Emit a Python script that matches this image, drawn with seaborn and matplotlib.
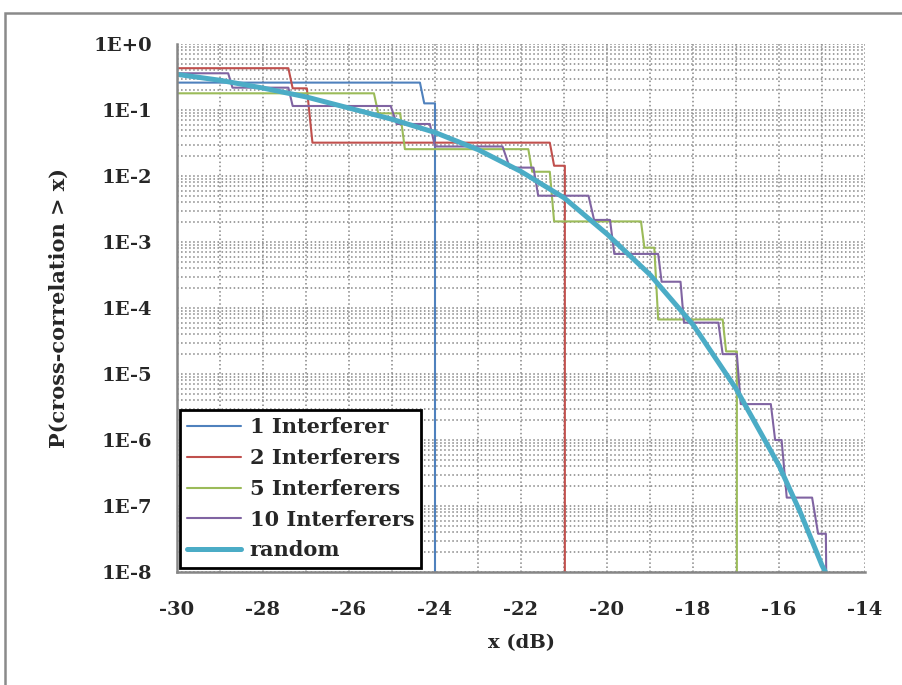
import matplotlib
matplotlib.use('Agg')
import matplotlib.pyplot as plt
from matplotlib.lines import Line2D
from matplotlib.patches import Rectangle
from matplotlib.ticker import FixedLocator, MultipleLocator, NullFormatter
import seaborn as sns

# ! Data (corner points of the step curves)
x_1 = [-30, -24.35, -24.25, -24.0, -24.0]
p_1 = [0.26, 0.26, 0.126, 0.126, 1e-12]

x_2 = [-30, -27.41, -27.31, -26.98, -26.85, -21.33, -21.23, -20.98, -20.98]
p_2 = [0.43, 0.43, 0.213, 0.213, 0.032, 0.032, 0.0143, 0.0143, 1e-12]

x_5 = [-30, -25.42, -25.32, -24.81, -24.70, -21.83, -21.74, -21.33, -21.23,
       -19.21, -19.13, -18.90, -18.81, -17.31, -17.23, -16.98, -16.98]
p_5 = [0.179, 0.179, 0.089, 0.089, 0.0255, 0.0255, 0.0116, 0.0116, 0.00205,
       0.00205, 0.00082, 0.00082, 6.7e-5, 6.7e-5, 2.2e-5, 2.2e-5, 1e-12]

x_10 = [-30, -28.81, -28.71, -27.41, -27.31, -25.03, -24.89, -24.12, -24.0,
        -22.43, -22.26, -21.71, -21.6, -20.43, -20.30, -19.93, -19.83, -18.81,
        -18.73, -18.29, -18.21, -17.41, -17.31, -16.98, -16.89, -16.19, -16.09,
        -15.94, -15.82, -15.23, -15.09, -14.91, -14.85]
p_10 = [0.36, 0.36, 0.218, 0.218, 0.115, 0.115, 0.0614, 0.0614, 0.028,
        0.028, 0.0134, 0.0134, 0.00503, 0.00503, 0.00216, 0.00216, 0.00066, 0.00066,
        0.00025, 0.00025, 6.0e-5, 6.0e-5, 2.0e-5, 2.0e-5, 3.5e-6, 3.5e-6, 1.0e-6,
        1.0e-6, 1.34e-7, 1.34e-7, 3.8e-8, 3.8e-8, 1e-12]

x_rand = [-30, -29, -28, -27, -26, -25, -24, -23, -22, -21, -20, -19, -18,
          -17, -16, -15.5, -15, -14.92]
p_rand = [0.347, 0.282, 0.215, 0.158, 0.107, 0.0724, 0.0457, 0.0251, 0.0117,
          0.00468, 0.00132, 3.2e-4, 5.6e-5, 6.0e-6, 4.1e-7, 7.9e-8, 1.26e-8, 1.0e-8]

labels = ['1 Interferer', '2 Interferers', '5 Interferers', '10 Interferers', 'random']
colors = ['#4F81BD', '#C0504D', '#9BBB59', '#8064A2', '#4BACC6']
widths = [1.5, 1.5, 1.5, 1.5, 3.6]

y_ticks = [1e0, 1e-1, 1e-2, 1e-3, 1e-4, 1e-5, 1e-6, 1e-7, 1e-8]
y_ticklabels = ['1E+0', '1E-1', '1E-2', '1E-3', '1E-4', '1E-5', '1E-6', '1E-7', '1E-8']
x_ticks = [-30, -28, -26, -24, -22, -20, -18, -16, -14]

sns.set_style('white')
plt.rcParams['font.family'] = ['DejaVu Serif']
plt.rcParams['font.weight'] = 'bold'

fig = plt.figure(figsize=(9.02, 6.85), dpi=100)
ax = fig.add_axes([177 / 902, 1 - 572 / 685, 688 / 902, 528 / 685])

series = [(x_1, p_1), (x_2, p_2), (x_5, p_5), (x_10, p_10), (x_rand, p_rand)]
for (xs, ps), c, w in zip(series, colors, widths):
    sns.lineplot(x=xs, y=ps, sort=False, estimator=None, color=c, linewidth=w, ax=ax)

ax.set_yscale('log')
ax.set_xlim(-30, -14)
ax.set_ylim(1e-8, 1)

ax.xaxis.set_major_locator(FixedLocator(x_ticks))
ax.xaxis.set_minor_locator(MultipleLocator(1))
ax.yaxis.set_major_locator(FixedLocator(y_ticks))
minor_y = [m * 10.0 ** e for e in range(-8, 0) for m in range(2, 10)]
ax.yaxis.set_minor_locator(FixedLocator(minor_y))
ax.yaxis.set_minor_formatter(NullFormatter())
ax.set_yticklabels(y_ticklabels)
ax.set_xticklabels([str(v) for v in x_ticks])

ax.grid(which='both', linestyle=':', color='#858585', linewidth=1.1)
ax.set_axisbelow(True)
for s in ['top', 'right']:
    ax.spines[s].set_visible(False)
for s in ['left', 'bottom']:
    ax.spines[s].set_color('#868686')
    ax.spines[s].set_linewidth(1.8)

ax.tick_params(which='major', direction='out', length=7, width=1.5, color='#868686',
               labelsize=14)
ax.tick_params(axis='x', which='major', pad=14)
ax.tick_params(axis='y', which='major', pad=11)
ax.tick_params(which='minor', length=0)
for t in ax.get_xticklabels() + ax.get_yticklabels():
    t.set_fontweight('bold')

ax.set_xlabel('x (dB)', fontsize=14, fontweight='bold')
ax.set_ylabel('P(cross-correlation > x)', fontsize=15, fontweight='bold')
ax.xaxis.set_label_coords(0.5, -0.117)
ax.yaxis.set_label_coords(-0.157, 0.5)

handles = [Line2D([0], [0], color=c, linewidth=w) for c, w in zip(colors, widths)]
leg = ax.legend(handles, labels, loc='lower left', bbox_to_anchor=(0.004, 0.008),
                borderaxespad=0, fancybox=False, framealpha=1, edgecolor='black',
                prop={'size': 15, 'weight': 'bold'}, handlelength=2.6,
                handletextpad=0.4, labelspacing=0.52, borderpad=0.35)
leg.get_frame().set_linewidth(2)

# outer chart-area border (left and top edges visible)
fig.patches.append(Rectangle((5 / 902, -0.2), 1.2, 1.2 - 13 / 685, transform=fig.transFigure,
                             fill=False, edgecolor='#8a8a8a', linewidth=1.8))

fig.savefig('out.png', dpi=100)
